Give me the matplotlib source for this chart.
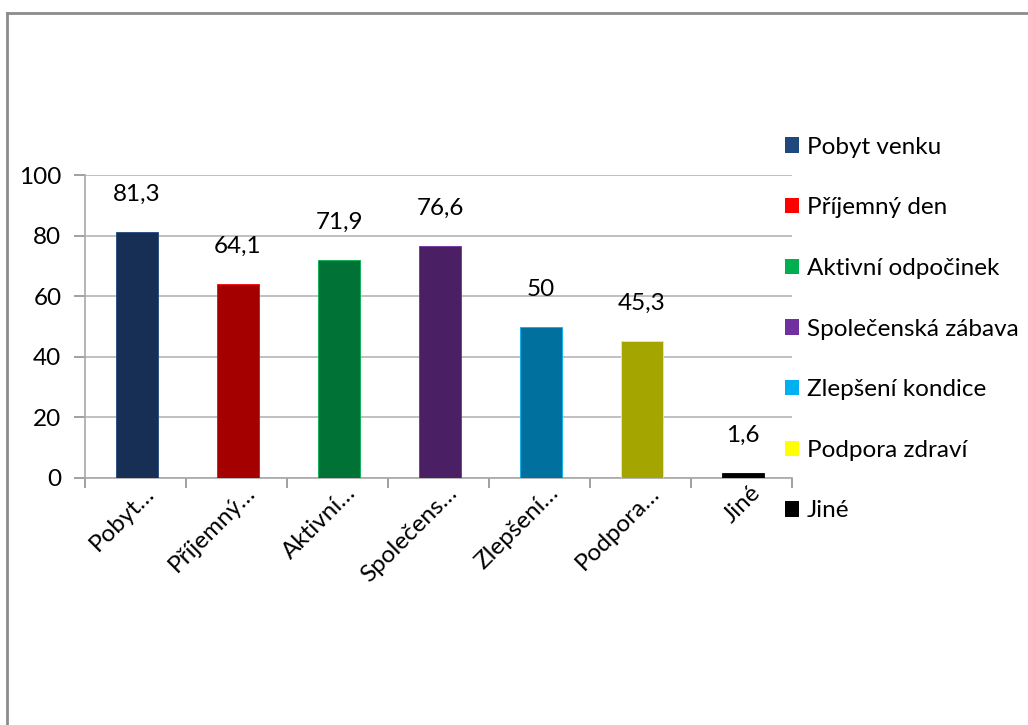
import matplotlib.pyplot as plt
from matplotlib.patches import Patch
from matplotlib.lines import Line2D
from matplotlib.transforms import ScaledTranslation
import numpy as np

# data
categories = ['Pobyt venku', 'Příjemný den', 'Aktivní odpočinek', 'Společenská zábava',
              'Zlepšení kondice', 'Podpora zdraví', 'Jiné']
short_labels = ['Pobyt…', 'Příjemný…', 'Aktivní…', 'Společens…', 'Zlepšení…', 'Podpora…', 'Jiné']
values = [81.3, 64.1, 71.9, 76.6, 50, 45.3, 1.6]
value_labels = ['81,3', '64,1', '71,9', '76,6', '50', '45,3', '1,6']

bar_colors = ['#172F54', '#A50000', '#007236', '#4A1F64', '#00719E', '#A5A500', '#000000']
legend_colors = ['#1F497D', '#FF0000', '#00B050', '#7030A0', '#00B0F0', '#FFFF00', '#000000']

plt.rcParams['font.family'] = ['Lato', 'DejaVu Sans']
fs = 17.5

fig = plt.figure(figsize=(10.28, 7.25), dpi=100)
ax = fig.add_axes([85 / 1028, 247 / 725, 707 / 1028, 303 / 725])

x = np.arange(len(categories))
ax.bar(x + 0.015, values, width=0.42, color=bar_colors, edgecolor=legend_colors,
       linewidth=0.6, zorder=3)

for xi, v, lab in zip(x, values, value_labels):
    ax.annotate(lab, (xi + 0.015, v), xytext=(0, 27), textcoords='offset points',
                ha='center', va='center', fontsize=fs, color='black')

ax.set_xlim(-0.5, len(categories) - 0.5)
ax.set_ylim(0, 100)
ax.set_yticks([0, 20, 40, 60, 80, 100])
ax.set_yticklabels(['0', '20', '40', '60', '80', '100'], fontsize=fs)
ax.yaxis.grid(True, color='#B5B5B5', linewidth=1.2, zorder=0)

ax.set_xticks(x)
ax.set_xticklabels(short_labels, fontsize=fs, rotation=45, ha='right', va='top',
                   rotation_mode='anchor')
ax.tick_params(axis='x', length=0, pad=3)
shift = ScaledTranslation(8 / 100, 0, fig.dpi_scale_trans)
for lab in ax.get_xticklabels():
    lab.set_transform(lab.get_transform() + shift)
ax.set_xticks(np.arange(-0.5, len(categories)), minor=True)
ax.tick_params(axis='x', which='minor', length=7, color='#909090', width=1.2)
ax.tick_params(axis='y', length=8, color='#909090', width=1.2, pad=9)

for s in ['top', 'right']:
    ax.spines[s].set_visible(False)
for s in ['left', 'bottom']:
    ax.spines[s].set_color('#A8A8A8')
    ax.spines[s].set_linewidth(1.2)

handles = [Patch(facecolor=c, edgecolor='none') for c in legend_colors]
fig.legend(handles, categories, loc='upper left', bbox_to_anchor=(775 / 1028, 1 - 127 / 725),
           frameon=False, fontsize=fs, handlelength=0.6, handleheight=0.6,
           handletextpad=0.3, labelspacing=1.63, borderaxespad=0)

# outer frame (chart border, cropped)
fig.add_artist(Line2D([7 / 1028, 1.0], [1 - 13 / 725, 1 - 13 / 725], transform=fig.transFigure,
                      color='#8C8C8C', linewidth=2))
fig.add_artist(Line2D([7 / 1028, 7 / 1028], [0, 1 - 13 / 725], transform=fig.transFigure,
                      color='#8C8C8C', linewidth=2))

fig.savefig('out.png', dpi=100, facecolor='white')
